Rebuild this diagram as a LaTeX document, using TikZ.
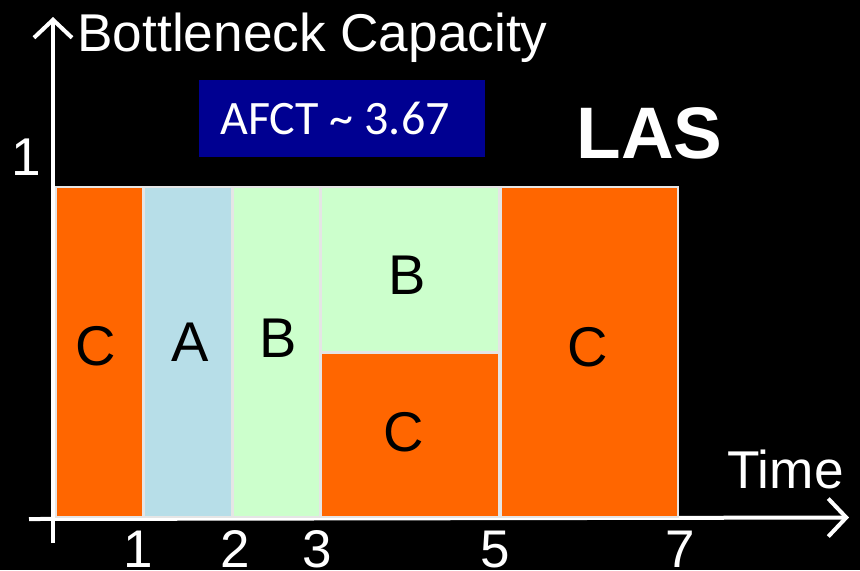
\documentclass[tikz,border=0pt]{standalone}
\usepackage{fontspec}
\setmainfont{Liberation Sans}
\newfontfamily\calib{Carlito}
\usetikzlibrary{arrows.meta}
\definecolor{lasorange}{RGB}{255,102,0}
\definecolor{lasblue}{RGB}{183,222,232}
\definecolor{lasgreen}{RGB}{204,255,204}
\definecolor{lasnavy}{RGB}{0,0,145}
\tikzset{
  job/.style={draw=white!80!gray, line width=0.6pt},
  axisline/.style={white, line width=2pt, -{Straight Barb[length=9pt,width=19pt]}},
  joblabel/.style={text=black, font=\fontsize{28}{33}\selectfont, inner sep=0pt},
  ticklabel/.style={text=white, font=\fontsize{26.5}{31}\selectfont, inner sep=0pt, anchor=base},
  bigtext/.style={text=white, font=\fontsize{26.6}{31}\selectfont, inner sep=0pt}
}
\begin{document}
\begin{tikzpicture}[x=0.5pt,y=-0.5pt]
\fill[black] (0,0) rectangle (860,570);
\useasboundingbox (0,0) rectangle (860,570);
% axes
\coordinate (yt) at (53,17);
\coordinate (xl) at (29,519);
\coordinate (xr) at (849,517.5);
\draw[white, line width=2pt] (53,543) -- (53,519);
\draw[axisline] (53,519) -- (yt);
\draw[axisline] (xl) -- (xr);
% jobs
\fill[lasorange] (56,187) rectangle (143,517);
\draw[job] (56,187) rectangle (143,517);
\node[joblabel] (c1) at (95.5,346) {C};
\fill[lasblue] (144,187) rectangle (232,517);
\draw[job] (144,187) rectangle (232,517);
\node[joblabel] (a1) at (190,342) {A};
\fill[lasgreen] (233,187) rectangle (320,517);
\draw[job] (233,187) rectangle (320,517);
\node[joblabel] (b1) at (278,338) {B};
\fill[lasgreen] (321,187) rectangle (499,352);
\draw[job] (321,187) rectangle (499,352);
\node[joblabel] (b2) at (407,275) {B};
\fill[lasorange] (321,353) rectangle (499,517);
\draw[job] (321,353) rectangle (499,517);
\node[joblabel] (c2) at (404,432) {C};
\fill[lasorange] (501,187) rectangle (678,517);
\draw[job] (501,187) rectangle (678,517);
\node[joblabel] (c3) at (588,347) {C};
% labels
\node[bigtext, anchor=base west] (ylab) at (77,51) {Bottleneck Capacity};
\node[bigtext, anchor=base] (one) at (26,175) {1};
\node[bigtext, anchor=base west] (xlab) at (727,488) {Time};
\node[ticklabel] (t1) at (138,567) {1};
\node[ticklabel] (t2) at (235,567) {2};
\node[ticklabel] (t3) at (317,567) {3};
\node[ticklabel] (t5) at (495,567) {5};
\node[ticklabel] (t7) at (680,567) {7};
% AFCT box
\fill[lasnavy] (199,80) rectangle (485,157);
\node[text=white, font=\calib\fontsize{24}{29}\selectfont, inner sep=0pt, anchor=base west] (afct) at (220,134) {AFCT \textasciitilde{} 3.67};
\node[text=white, font=\fontsize{36.5}{44}\selectfont\bfseries, inner sep=0pt, anchor=base west] (las) at (576,158) {LAS};
\end{tikzpicture}
\end{document}
